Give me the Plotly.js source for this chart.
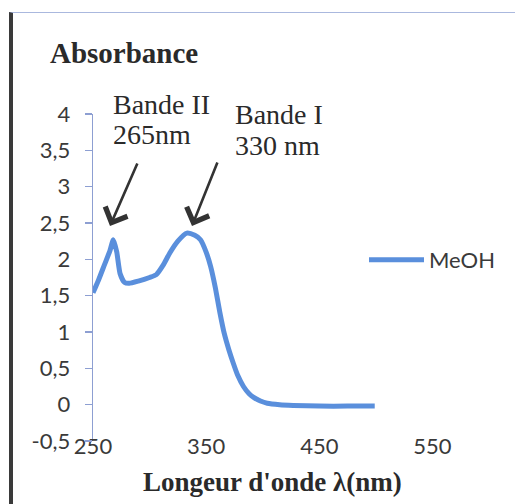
<!DOCTYPE html>
<html><head><meta charset="utf-8">
<script src="https://cdn.plot.ly/plotly-3.0.1.min.js"></script>
<style>
html,body{margin:0;padding:0;background:#fff;}
#wrap{position:relative;width:515px;height:504px;overflow:hidden}
#chart{width:515px;height:504px;}
#frame{position:absolute;left:9px;top:12px;width:506px;height:492px;border-left:4px solid #3a3a3a;border-top:1px solid #aab8de;box-sizing:border-box;pointer-events:none;z-index:10}
</style></head><body>
<div id="wrap"><div id="chart"></div><div id="frame"></div></div>
<script>
// ---- data ----
const wavelength = [250,255,260,265,268,271,274,278,282,290,300,306,312,318,325,333,340,345,350,354,358,362,366,370,374,378,383,388,392,398,404,415,427,450,475,499];
const absorbance = [1.54,1.72,1.92,2.12,2.27,2.10,1.80,1.68,1.67,1.70,1.75,1.79,1.92,2.09,2.25,2.36,2.33,2.27,2.10,1.90,1.62,1.28,0.98,0.76,0.57,0.40,0.25,0.15,0.10,0.05,0.02,0.00,-0.01,-0.02,-0.02,-0.02];
const seriesName = 'MeOH';
const xTickVals = [250,350,450,550];
const yTickVals = [-0.5,0,0.5,1,1.5,2,2.5,3,3.5,4];
const yTickText = ['-0,5','0','0,5','1','1,5','2','2,5','3','3,5','4'];
const yTitle = 'Absorbance';
const xTitle = "Longeur d'onde λ(nm)";
const bandLabels = [['Bande II','265nm'],['Bande I','330 nm']];

// ---- layout geometry ----
const W=515,H=504, L=93, R=26, T=114, B=63;
const xr=[250,600], yr=[-0.5,4];
const pw=W-L-R, ph=H-T-B;
const dx = px => xr[0] + (px-L)/pw*(xr[1]-xr[0]);
const dy = py => yr[1] - (py-T)/ph*(yr[1]-yr[0]);
const fx = px => (px-L)/pw;
const fy = py => (H-B-py)/ph;
const axisCol='#8d9fd2';
const textCol='#3a3a3a';
const serif='"Liberation Serif", "Times New Roman", serif';
const sans='Lato, "Open Sans", sans-serif';

const trace = {
  x: wavelength, y: absorbance, name: seriesName, type:'scatter', mode:'lines',
  line:{color:'#5a8fdc', width:5, shape:'spline', smoothing:0.6},
  hoverinfo:'skip'
};

const ann = [];
function txt(t, px, py, size, bold, anchor){
  ann.push({text: bold?('<b>'+t+'</b>'):t, xref:'paper', yref:'paper', x:fx(px), y:fy(py), xanchor:anchor||'left', yanchor:'middle',
    showarrow:false, font:{family:serif, size:size, color:'#2a2a2a'}});
}
txt(bandLabels[0][0], 111, 104, 28);
txt(bandLabels[0][1], 111, 134, 28);
txt(bandLabels[1][0], 233, 114, 28);
txt(bandLabels[1][1], 233, 145, 28);
txt(xTitle, 272, 482, 27, true, 'center');
function arrow(hx,hy,tx,ty){
  ann.push({text:'', xref:'x', yref:'y', x:dx(hx), y:dy(hy), axref:'x', ayref:'y', ax:dx(tx), ay:dy(ty),
    showarrow:true, arrowhead:4, arrowsize:1.8, arrowwidth:2.6, arrowcolor:'#333'});
}
arrow(110,226,138,162);
arrow(192,226,218,161);

const layout = {
  width:W, height:H, margin:{l:L,r:R,t:T,b:B,pad:0},
  paper_bgcolor:'#fff', plot_bgcolor:'#fff',
  separators:', ',
  showlegend:true,
  title:{text:'<b>'+yTitle+'</b>', xref:'container', yref:'container', x:50/W, xanchor:'left', y:1-53/H, yanchor:'middle',
    font:{family:serif, size:29, color:'#2a2a2a'}},
  xaxis:{range:xr, tickvals:xTickVals, showgrid:false, zeroline:false, showline:false, ticks:'',
    tickfont:{family:sans, size:22, color:textCol}, ticklabelstandoff:-10, fixedrange:true},
  xaxis2:{overlaying:'x', anchor:'free', position:0.5/4.5, side:'bottom', range:xr, tickvals:[350,450,550],
    showgrid:false, zeroline:false, showline:true, linecolor:axisCol, linewidth:1.3, ticks:'outside', ticklen:7,
    tickcolor:axisCol, tickwidth:1.3, showticklabels:false},
  yaxis:{range:yr, tickvals:yTickVals, ticktext:yTickText, showgrid:false, zeroline:false, showline:true,
    linecolor:axisCol, linewidth:1.3, ticks:'outside', ticklen:7, tickcolor:axisCol, tickwidth:1.3,
    tickfont:{family:sans, size:22, color:textCol}, ticklabelstandoff:10, fixedrange:true},
  legend:{x:(364-L)/pw, y:(H-B-260)/ph, xanchor:'left', yanchor:'middle', bgcolor:'rgba(0,0,0,0)',
    font:{family:sans, size:22, color:textCol}, itemwidth:55},
  annotations: ann
};
Plotly.newPlot('chart',[trace],layout,{staticPlot:true, displayModeBar:false});
</script>
</body></html>
